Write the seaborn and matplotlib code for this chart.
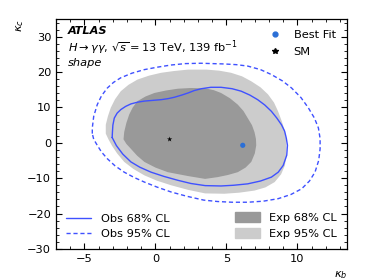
import matplotlib
matplotlib.use('Agg')
import matplotlib.pyplot as plt
import seaborn as sns
from matplotlib.lines import Line2D
from matplotlib.patches import Patch
from matplotlib.ticker import MultipleLocator

# === 1. Contour boundaries (kappa_b, kappa_c) ===
exp95_kb = [-3.5, -3.5, -3.35, -3.15, -2.85, -2.44, -1.9, -1.26, -0.45, 0.4, 1.3, 2.3,
            3.6, 4.5, 5.33, 6.1, 6.75, 7.4, 7.93, 8.35, 8.64, 8.9, 9.12, 9.22, 9.23,
            9.2, 9.12, 8.85, 8.4, 7.75, 6.98, 5.9, 4.85, 3.5, 2.3, 1.1, 0.1, -0.78,
            -1.55, -2.2, -2.7, -3.05, -3.3]
exp95_kc = [2.6, 5.1, 7.5, 9.9, 12.3, 14.6, 16.4, 17.9, 19.0, 19.8, 20.3, 20.7,
            20.7, 20.4, 19.8, 18.8, 17.4, 15.7, 13.7, 11.4, 8.9, 6.1, 3.3, 0.8, -1.7,
            -4.1, -6.4, -8.9, -11.1, -12.6, -13.5, -14.1, -14.4, -14.3, -13.3, -12.0, -10.7, -9.2,
            -7.4, -5.4, -3.0, -0.9, 0.9]

exp68_kb = [-2.25, -2.2, -2.05, -1.85, -1.6, -1.26, -0.7, -0.07, 0.75, 1.58, 2.5, 3.5,
            4.1, 4.62, 5.25, 5.8, 6.2, 6.5, 6.8, 6.98, 7.08, 7.1, 7.0, 6.75, 6.35,
            5.8, 5.1, 4.38, 3.5, 2.3, 0.87, 0.0, -0.78, -1.3, -1.73, -2.05]
exp68_kc = [1.0, 3.1, 5.6, 8.0, 10.0, 11.8, 13.1, 14.1, 14.8, 15.3, 15.5, 15.4,
            14.9, 14.1, 12.6, 10.8, 9.0, 7.0, 5.0, 3.0, 1.1, -0.7, -3.0, -5.4, -7.0,
            -8.3, -9.1, -9.7, -10.2, -9.4, -8.3, -7.0, -5.4, -3.6, -1.7, -0.3]

obs68_kb = [-3.05, -3.03, -3.0, -2.9, -2.7, -2.44, -2.1, -1.73, -1.25, -0.78, -0.2, 0.4,
            0.9, 1.35, 1.85, 2.3, 2.75, 3.24, 3.9, 4.62, 5.4, 6.04, 6.65, 7.2, 7.7,
            8.17, 8.55, 8.88, 9.1, 9.22, 9.3, 9.25, 9.0, 8.65, 8.17, 7.4, 6.5, 5.5,
            4.62, 3.5, 2.5, 1.58, 0.6, -0.31, -1.1, -1.73, -2.3, -2.75]
obs68_kc = [1.5, 3.1, 5.0, 7.0, 8.4, 9.4, 10.3, 11.0, 11.5, 11.8, 12.0, 12.2,
            12.5, 12.9, 13.5, 14.1, 14.8, 15.3, 15.7, 15.7, 15.3, 14.6, 13.5, 12.2, 10.7,
            8.9, 7.0, 5.1, 3.3, 1.3, -0.7, -3.5, -6.4, -8.3, -9.7, -10.8, -11.6, -12.0,
            -12.2, -12.1, -11.5, -10.6, -9.5, -8.3, -6.9, -5.4, -3.2, -0.8]

obs95_kb = [-4.45, -4.45, -4.35, -4.1, -3.8, -3.39, -2.95, -2.44, -1.65, -0.78, 0.15, 1.1,
            2.1, 3.2, 4.0, 4.85, 5.7, 6.5, 7.4, 8.17, 8.95, 9.59, 10.25, 10.77, 11.2,
            11.48, 11.6, 11.6, 11.5, 11.24, 10.85, 10.3, 9.55, 8.64, 7.6, 6.5, 5.4, 4.38,
            3.4, 2.2, 1.1, 0.1, -0.78, -1.5, -2.2, -2.85, -3.39, -3.8, -4.1, -4.35]
obs95_kc = [2.6, 4.2, 7.5, 10.8, 13.3, 15.5, 17.1, 18.4, 19.7, 20.7, 21.4, 22.0,
            22.4, 22.5, 22.4, 22.3, 22.1, 21.7, 20.7, 19.3, 17.5, 15.5, 12.8, 9.9, 7.0,
            4.2, 1.2, -1.7, -5.0, -8.3, -10.8, -13.0, -14.6, -15.8, -16.5, -16.8, -16.8, -16.6,
            -16.2, -15.1, -13.9, -12.5, -11.1, -9.8, -8.3, -6.5, -4.5, -2.6, -0.7, 1.0]

best_fit = (6.15, -0.7)
sm_point = (1.0, 1.0)

# === 2. Style ===
sns.set_style('ticks')
plt.rcParams['font.family'] = ['DejaVu Sans']
plt.rcParams['mathtext.fontset'] = 'dejavusans'
plt.rcParams['text.color'] = 'black'
plt.rcParams['axes.labelcolor'] = 'black'
plt.rcParams['xtick.color'] = 'black'
plt.rcParams['ytick.color'] = 'black'
fs = 8.2

fig = plt.figure(figsize=(3.74, 2.8), dpi=100)
ax = fig.add_axes([0.15, 0.111, 0.778, 0.821])

dark = '#999999'
light = '#cccccc'
blue = '#3f51ff'
bf_col = '#2b6fd6'


def closed(xs, ys):
    return list(xs) + [xs[0]], list(ys) + [ys[0]]


# === 3. Expected contours (filled) ===
ax.fill(*closed(exp95_kb, exp95_kc), color=light, lw=0, zorder=1)
ax.fill(*closed(exp68_kb, exp68_kc), color=dark, lw=0, zorder=2)

# === 4. Observed contours (lines) ===
x, y = closed(obs68_kb, obs68_kc)
sns.lineplot(x=x, y=y, sort=False, ax=ax, color=blue, lw=1.0, zorder=3,
             estimator=None)
x, y = closed(obs95_kb, obs95_kc)
sns.lineplot(x=x, y=y, sort=False, ax=ax, color=blue, lw=1.0, zorder=3,
             estimator=None, linestyle=(0, (3, 2)))

# === 5. Points ===
sns.scatterplot(x=[best_fit[0]], y=[best_fit[1]], ax=ax, color=bf_col, s=14,
                edgecolor='none', zorder=5)
sns.scatterplot(x=[sm_point[0]], y=[sm_point[1]], ax=ax, color='black', marker='*',
                s=16, edgecolor='none', zorder=5)

# === 6. Axes ===
ax.set_xlim(-7, 13.5)
ax.set_ylim(-30, 35)
ax.set_xticks([-5, 0, 5, 10])
ax.set_yticks([-30, -20, -10, 0, 10, 20, 30])
ax.xaxis.set_minor_locator(MultipleLocator(1))
ax.yaxis.set_minor_locator(MultipleLocator(2))
ax.tick_params(which='both', direction='in', top=True, right=True, labelsize=fs)
ax.tick_params(which='major', length=4.5, width=0.8)
ax.tick_params(which='minor', length=2.3, width=0.6)
for s in ax.spines.values():
    s.set_linewidth(0.9)
    s.set_color('black')
ax.set_xlabel(r'$\kappa_b$', loc='right', fontsize=fs)
ax.set_ylabel(r'$\kappa_c$', loc='top', fontsize=fs, labelpad=1)

# === 7. Labels ===
ax.text(0.041, 0.97, 'ATLAS', transform=ax.transAxes, fontsize=fs,
        fontweight='bold', fontstyle='italic', va='top')
ax.text(0.041, 0.915, r'$H\rightarrow\gamma\gamma$, $\sqrt{s}=13$ TeV, 139 fb$^{-1}$',
        transform=ax.transAxes, fontsize=fs, va='top')
ax.text(0.041, 0.832, 'shape', transform=ax.transAxes, fontsize=fs,
        fontstyle='italic', va='top')

# === 8. Legends ===
leg_pts = ax.legend(
    handles=[Line2D([], [], ls='none', marker='o', color=bf_col, ms=3.5),
             Line2D([], [], ls='none', marker='*', color='black', ms=4)],
    labels=['Best Fit', 'SM'], loc='upper right', frameon=False, fontsize=fs,
    handlelength=1.2, handletextpad=1.0, labelspacing=0.6, borderaxespad=0.6)
ax.add_artist(leg_pts)

leg_obs = ax.legend(
    handles=[Line2D([], [], color=blue, lw=1.0),
             Line2D([], [], color=blue, lw=1.0, ls=(0, (3, 2)))],
    labels=['Obs 68% CL', 'Obs 95% CL'], loc='lower left', frameon=False,
    fontsize=fs, handlelength=2.2, labelspacing=0.4, borderaxespad=0.5)
ax.add_artist(leg_obs)

ax.legend(
    handles=[Patch(color=dark), Patch(color=light)],
    labels=['Exp 68% CL', 'Exp 95% CL'], loc='lower right', frameon=False,
    fontsize=fs, handlelength=2.2, handleheight=1.0, labelspacing=0.4,
    borderaxespad=0.5)

fig.savefig('out.png', dpi=100)
